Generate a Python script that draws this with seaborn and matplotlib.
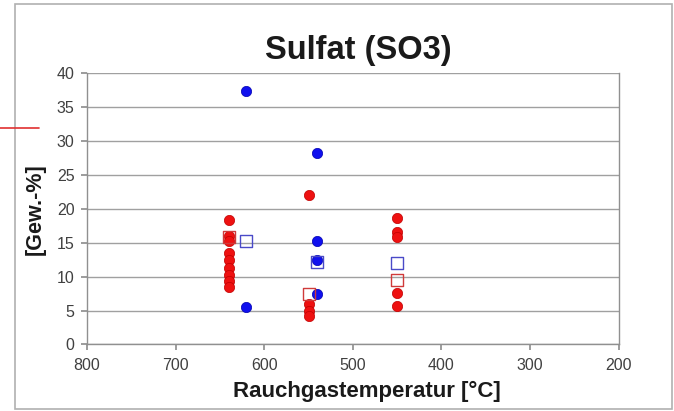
import matplotlib.pyplot as plt
import matplotlib.lines as mlines
import matplotlib.patches as mpatches
import numpy as np
import pandas as pd
import seaborn as sns

sns.set_theme(style="white")
plt.rcParams['font.family'] = ['Liberation Sans', 'DejaVu Sans']

# ─── DATA ────────────────────────────────────────────────────────────────────
red_temp = [640, 640, 640, 640, 640, 640, 640, 640, 640,
            550, 550, 550, 550,
            450, 450, 450, 450, 450]
red_val = [18.4, 16.0, 15.3, 13.5, 12.5, 11.2, 10.2, 9.4, 8.5,
           22.0, 5.9, 5.0, 4.2,
           18.7, 16.6, 15.8, 7.6, 5.6]
blue_temp = [620, 620, 540, 540, 540, 540]
blue_val = [37.3, 5.5, 28.3, 15.2, 12.5, 7.5]

# mean values (open squares)
red_mean_temp = [640, 550, 450]
red_mean_val = [15.8, 7.5, 9.5]
blue_mean_temp = [620, 540, 450]
blue_mean_val = [15.3, 12.1, 12.0]

x_ticks = [800, 700, 600, 500, 400, 300, 200]
y_ticks = [0, 5, 10, 15, 20, 25, 30, 35, 40]

red = '#ee1111'
blue = '#1010ee'

fig = plt.figure(figsize=(6.74, 4.11), dpi=100)
ax = fig.add_axes([0.129, 0.162, 0.789, 0.660])

sns.scatterplot(x=red_temp, y=red_val, ax=ax, color=red, s=55,
                edgecolor='#c00000', linewidth=0.5, zorder=3)
sns.scatterplot(x=blue_temp, y=blue_val, ax=ax, color=blue, s=55,
                edgecolor='#0000b0', linewidth=0.5, zorder=3)
sns.scatterplot(x=red_mean_temp, y=red_mean_val, ax=ax, marker='s', s=75,
                facecolor='none', edgecolor='#d03a3a', linewidth=1.0, zorder=4)
sns.scatterplot(x=blue_mean_temp, y=blue_mean_val, ax=ax, marker='s', s=75,
                facecolor='none', edgecolor='#4a4ac8', linewidth=1.0, zorder=4)

ax.set_xlim(800, 200)
ax.set_ylim(0, 40)
ax.set_xticks(x_ticks)
ax.set_yticks(y_ticks)
ax.yaxis.grid(True, color='#a0a0a0', linewidth=1.0)
ax.set_axisbelow(True)
for side in ['left', 'bottom', 'right']:
    ax.spines[side].set_color('#909090')
    ax.spines[side].set_linewidth(1.0)
ax.spines['top'].set_visible(False)
ax.tick_params(axis='both', colors='#909090', labelcolor='#404040',
               labelsize=11.5, length=4, direction='out', left=True, bottom=True)
ax.tick_params(axis='x', pad=6)
ax.tick_params(axis='y', pad=5)

ax.set_xlabel('Rauchgastemperatur [°C]', fontsize=16, fontweight='bold',
              color='#1a1a1a', labelpad=7)
ax.xaxis.set_label_coords(0.526, -0.135)
ax.set_ylabel('[Gew.-%]', fontsize=15.5, fontweight='bold', color='#1a1a1a',
              labelpad=8)
ax.set_title('Sulfat (SO3)', fontsize=23.5, fontweight='bold', color='#1a1a1a',
             pad=10, x=0.51)

# chart frame and stray line from the screenshot
fig.add_artist(mpatches.Rectangle((0.022, 0.006), 0.975, 0.984, transform=fig.transFigure,
                                  fill=False, edgecolor='#b0b0b0', linewidth=1.2))
fig.add_artist(mlines.Line2D([0.0, 0.058], [0.689, 0.689], transform=fig.transFigure,
                             color='#e03030', linewidth=1.2))

fig.savefig('out.png', dpi=100)
